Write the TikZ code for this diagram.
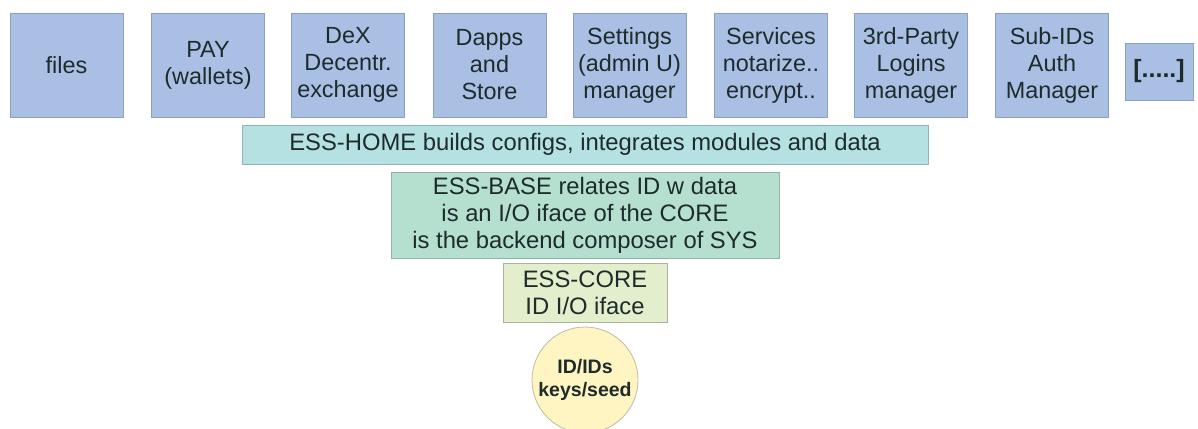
\documentclass[tikz,border=0pt]{standalone}
\usepackage{fontspec}
\setmainfont{Liberation Sans}
\definecolor{modfill}{HTML}{A9C0E4}
\definecolor{moddraw}{HTML}{8A9FC4}
\definecolor{homefill}{HTML}{B5E1E2}
\definecolor{homedraw}{HTML}{8DB4B6}
\definecolor{basefill}{HTML}{B5E0D0}
\definecolor{basedraw}{HTML}{8EB5A8}
\definecolor{corefill}{HTML}{E3EECD}
\definecolor{coredraw}{HTML}{A8B39A}
\definecolor{seedfill}{HTML}{FFF5C2}
\definecolor{seeddraw}{HTML}{BDBBA8}
\definecolor{txt}{HTML}{1E2B2B}
\tikzset{
  every node/.style={text=txt, align=center, inner sep=0pt},
  modbox/.style={rectangle, fill=modfill, draw=moddraw, line width=0.8pt,
    minimum width=113pt, minimum height=104pt,
    font=\fontsize{23.4}{27}\selectfont},
  layerbox/.style={rectangle, line width=0.8pt,
    font=\fontsize{23.8}{27}\selectfont},
  seedcircle/.style={circle, fill=seedfill, draw=seeddraw, line width=0.8pt,
    minimum size=106pt, font=\fontsize{19.5}{23}\selectfont\bfseries}
}
\begin{document}
\begin{tikzpicture}[x=1pt,y=-1pt]
\useasboundingbox (0,0) rectangle (1198,428);
\node[modbox] (files) at (66.5,65) {files};
\node[modbox] (pay) at (208,65) {PAY\\(wallets)};
\node[modbox] (dex) at (348,65) {DeX\\Decentr.\\exchange};
\node[modbox] (dapps) at (489.5,65) {Dapps\\and\\Store};
\node[modbox] (settings) at (629.5,65) {Settings\\(admin U)\\manager};
\node[modbox] (services) at (771,65) {Services\\notarize..\\encrypt..};
\node[modbox] (third) at (911,65) {3rd-Party\\Logins\\manager};
\node[modbox] (subids) at (1052,65) {Sub-IDs\\Auth\\Manager};
\node[modbox, minimum width=68pt, minimum height=57pt, font=\fontsize{25}{28}\selectfont\bfseries] (more) at (1159,71.5) {[.....]};
\node[layerbox, fill=homefill, draw=homedraw, minimum width=686pt, minimum height=39pt] (home) at (585,144.5) {ESS-HOME builds configs, integrates modules and data};
\node[layerbox, fill=basefill, draw=basedraw, minimum width=388pt, minimum height=86pt] (base) at (585,215) {ESS-BASE relates ID w data\\is an I/O iface of the CORE\\is the backend composer of SYS};
\node[layerbox, fill=corefill, draw=coredraw, minimum width=164pt, minimum height=59pt] (core) at (585,292.5) {ESS-CORE\\ID I/O iface};
\node[seedcircle] (seed) at (585,380) {ID/IDs\\keys/seed};
\end{tikzpicture}
\end{document}
